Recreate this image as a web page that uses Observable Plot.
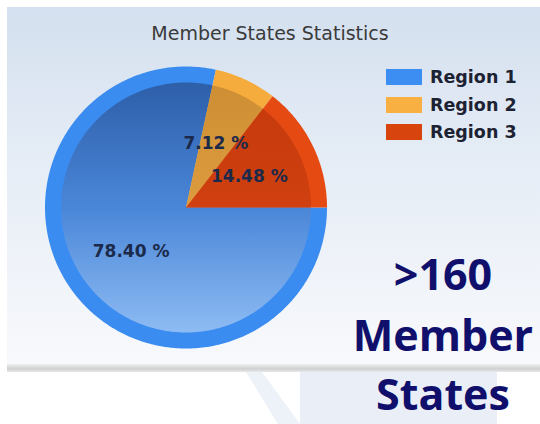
<!DOCTYPE html>
<html><head><meta charset="utf-8">
<script src="https://cdn.jsdelivr.net/npm/d3@7"></script>
<script src="https://cdn.jsdelivr.net/npm/@observablehq/plot@0.6"></script>
<style>
body{margin:0;background:#fff;}
#wrap{position:relative;width:540px;height:424px;overflow:hidden;background:#fff;font-family:"DejaVu Sans",sans-serif;}
#panel{position:absolute;left:7px;top:7px;width:533px;height:358px;background:linear-gradient(#d4e0ef 0%,#e6edf6 45%,#f8f9fc 100%);}
#shadow{position:absolute;left:7px;top:364px;width:533px;height:8px;background:linear-gradient(#eeeeee,#cfd0d2 60%,#e8e8e8);}
#wm1{position:absolute;left:300px;top:372px;width:197px;height:52px;background:#eaeff7;}
#wm2{position:absolute;left:0;top:372px;width:540px;height:52px;background:#edf1f8;clip-path:polygon(246px 0,262px 0,300px 52px,278px 52px);}
#title{position:absolute;left:0;width:540px;top:24px;text-align:center;font-size:19px;line-height:19px;color:#3a3a3a;}
#legend{position:absolute;left:386px;top:63px;}
.row{display:flex;align-items:center;height:27.7px;}
.sw{width:36px;height:16px;margin-right:8px;}
.lt{font-weight:bold;font-size:17.5px;color:#1d2233;line-height:18px;}
.big{position:absolute;left:343px;width:200px;text-align:center;font-family:"Open Sans",sans-serif;font-weight:bold;font-size:43px;line-height:43px;color:#10106c;}
#chart{position:absolute;left:0;top:0;}
</style></head><body>
<div id="wrap">
  <div id="panel"></div>
  <div id="shadow"></div>
  <div id="wm1"></div>
  <div id="wm2"></div>
  <div id="chart"></div>
  <div id="title">Member States Statistics</div>
  <div id="legend"></div>
  <div class="big" style="top:252px">&gt;160</div>
  <div class="big" style="top:313px">Member</div>
  <div class="big" style="top:372px">States</div>
</div>
<script>
const regions = ["Region 1", "Region 2", "Region 3"];
const shares = [78.40, 7.12, 14.48];
const labels = ["78.40 %", "7.12 %", "14.48 %"];
const rimColors = ["#3a8cf0", "#f6ac3d", "#e44a12"];
const swatchColors = ["#3d8ef2", "#f8b043", "#d8440e"];
const innerTop = ["#2a5aa3", "#cc8c32", "#c2380a"];
const innerMid = ["#4a86d8", "#dc9c3e", "#d04010"];
const innerBot = ["#96c2f6", "#eab050", "#e24a16"];

const cx = 185.5, cy = 207, R = 141, rInner = 125 / 141, rLabel = 0.5;

const arcs = d3.pie().sort(null).value(d => d)
  .startAngle(Math.PI / 2).endAngle(Math.PI / 2 + 2 * Math.PI)(shares);

function slicePoints(rr) {
  const pts = [];
  arcs.forEach((a, i) => {
    pts.push({region: regions[i], x: 0, y: 0});
    const n = Math.max(2, Math.ceil((a.endAngle - a.startAngle) / 0.01));
    for (let k = 0; k <= n; k++) {
      const t = a.startAngle + (a.endAngle - a.startAngle) * k / n;
      pts.push({region: regions[i], x: rr * Math.sin(t), y: rr * Math.cos(t)});
    }
    pts.push({region: regions[i], x: 0, y: 0});
  });
  return pts;
}
const outerPts = slicePoints(1);
const innerPts = slicePoints(rInner);
const labelData = arcs.map((a, i) => {
  const m = (a.startAngle + a.endAngle) / 2;
  return {text: labels[i], x: rLabel * Math.sin(m), y: rLabel * Math.cos(m)};
});

const defsMark = () => {
  const g = d3.create("svg:g");
  const defs = g.append("defs");
  regions.forEach((r, i) => {
    const lg = defs.append("linearGradient").attr("id", "grad" + i)
      .attr("gradientUnits", "userSpaceOnUse")
      .attr("x1", 0).attr("x2", 0).attr("y1", cy - R).attr("y2", cy + R);
    lg.append("stop").attr("offset", "0%").attr("stop-color", innerTop[i]);
    lg.append("stop").attr("offset", "50%").attr("stop-color", innerMid[i]);
    lg.append("stop").attr("offset", "100%").attr("stop-color", innerBot[i]);
  });
  return g.node();
};

const plot = Plot.plot({
  width: 540, height: 424, margin: 0,
  x: {domain: [-1, 1], range: [cx - R, cx + R], axis: null},
  y: {domain: [-1, 1], range: [cy + R, cy - R], axis: null},
  color: {domain: regions, range: rimColors},
  style: {background: "transparent", overflow: "visible"},
  marks: [
    defsMark,
    Plot.line(outerPts, {x: "x", y: "y", z: "region", fill: "region", stroke: "none", curve: "linear"}),
    ...regions.map((r, i) => Plot.line(innerPts.filter(p => p.region === r),
      {x: "x", y: "y", fill: `url(#grad${i})`, stroke: "none", curve: "linear"})),
    Plot.text(labelData, {x: "x", y: "y", text: "text", fontSize: 17, fontWeight: "bold",
      fontFamily: "DejaVu Sans", fill: "#1b2a4a", textAnchor: "middle"})
  ]
});
document.getElementById("chart").appendChild(plot);

const legend = d3.select("#legend");
regions.forEach((r, i) => {
  const row = legend.append("div").attr("class", "row");
  row.append("div").attr("class", "sw").style("background", swatchColors[i]);
  row.append("div").attr("class", "lt").text(r);
});
</script>
</body></html>
